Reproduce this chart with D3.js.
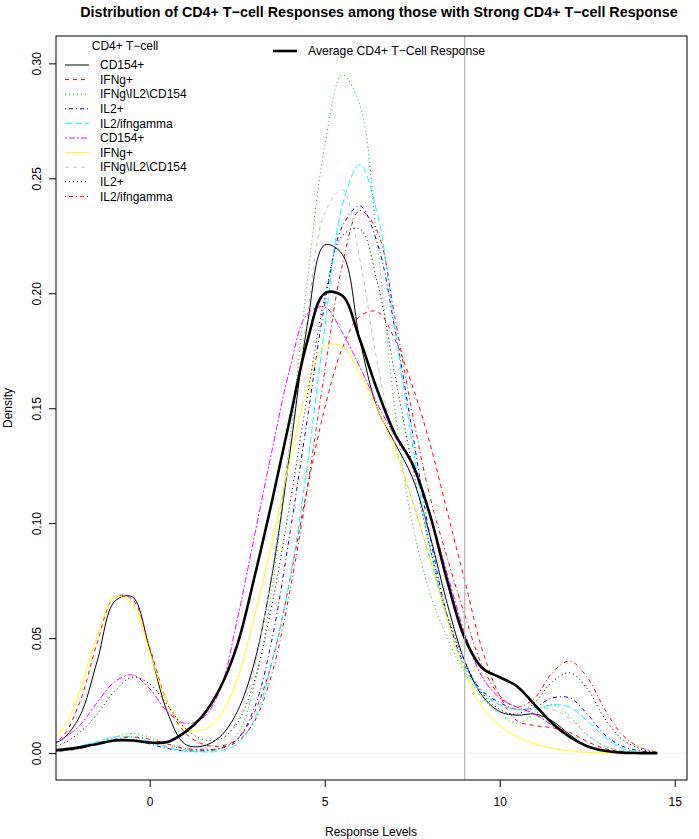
<!DOCTYPE html>
<html>
<head>
<meta charset="utf-8">
<script src="https://cdn.jsdelivr.net/npm/d3@7"></script>
<style>
  body { margin: 0; background: #fff; }
  text { font-family: "Liberation Sans", Arial, sans-serif; }
</style>
</head>
<body>
<div id="chart"></div>
<script>
const xGrid = [-3, -2.5, -2, -1.5, -1, -0.5, 0, 0.5, 1, 1.5, 2, 2.5, 3, 3.5, 4, 4.5, 5, 5.5, 6, 6.5,
  7, 7.5, 8, 8.5, 9, 9.5, 10, 10.5, 11, 11.5, 12, 12.5, 13, 13.5, 14, 14.5];

const cd154A = [0.003, 0.006, 0.016, 0.04, 0.066, 0.068, 0.045, 0.018, 0.004, 0.003, 0.007, 0.018, 0.04, 0.078, 0.13, 0.186, 0.221, 0.217, 0.18, 0.15,
  0.135, 0.12, 0.095, 0.065, 0.04, 0.025, 0.018, 0.0165, 0.017, 0.014, 0.008, 0.003, 0.001, 0, 0, 0];
const ifngA = [0.003, 0.007, 0.022, 0.048, 0.068, 0.067, 0.046, 0.022, 0.009, 0.004, 0.003, 0.006, 0.018, 0.04, 0.075, 0.115, 0.15, 0.176, 0.19, 0.192,
  0.18, 0.16, 0.135, 0.105, 0.075, 0.045, 0.025, 0.014, 0.012, 0.011, 0.009, 0.005, 0.002, 0.0005, 0, 0];
const tripleA = [0.0005, 0.001, 0.002, 0.004, 0.007, 0.0085, 0.007, 0.004, 0.0015, 0.0008, 0.002, 0.008, 0.03, 0.072, 0.135, 0.205, 0.264, 0.295, 0.282, 0.222,
  0.15, 0.1, 0.07, 0.05, 0.035, 0.024, 0.017, 0.013, 0.017, 0.021, 0.016, 0.008, 0.003, 0.001, 0, 0];
const il2A = [0.0005, 0.001, 0.002, 0.004, 0.0055, 0.0055, 0.004, 0.002, 0.001, 0.001, 0.002, 0.006, 0.02, 0.05, 0.095, 0.145, 0.195, 0.229, 0.238, 0.222,
  0.185, 0.14, 0.095, 0.06, 0.038, 0.027, 0.022, 0.019, 0.02, 0.024, 0.024, 0.017, 0.008, 0.003, 0.001, 0];
const il2ifnA = [0.0005, 0.001, 0.003, 0.005, 0.007, 0.007, 0.005, 0.0025, 0.001, 0.0005, 0.001, 0.004, 0.015, 0.04, 0.075, 0.125, 0.185, 0.238, 0.256, 0.235,
  0.185, 0.135, 0.09, 0.058, 0.037, 0.026, 0.021, 0.019, 0.019, 0.021, 0.02, 0.014, 0.007, 0.002, 0.0005, 0];
const cd154B = [0.003, 0.006, 0.012, 0.022, 0.031, 0.034, 0.028, 0.018, 0.013, 0.015, 0.027, 0.058, 0.095, 0.132, 0.167, 0.191, 0.194, 0.183, 0.168, 0.152,
  0.138, 0.125, 0.104, 0.078, 0.052, 0.033, 0.024, 0.02, 0.017, 0.012, 0.007, 0.003, 0.001, 0, 0, 0];
const ifngB = [0.004, 0.01, 0.027, 0.051, 0.068, 0.065, 0.044, 0.022, 0.011, 0.01, 0.016, 0.032, 0.06, 0.092, 0.127, 0.158, 0.177, 0.177, 0.165, 0.15,
  0.132, 0.11, 0.085, 0.058, 0.035, 0.02, 0.012, 0.007, 0.004, 0.002, 0.001, 0.0003, 0, 0, 0, 0];
const tripleB = [0.0005, 0.001, 0.002, 0.004, 0.006, 0.006, 0.005, 0.003, 0.002, 0.002, 0.005, 0.014, 0.038, 0.08, 0.135, 0.19, 0.235, 0.245, 0.215, 0.17,
  0.135, 0.11, 0.085, 0.06, 0.04, 0.027, 0.021, 0.019, 0.019, 0.019, 0.015, 0.008, 0.003, 0.001, 0, 0];
const il2B = [0.002, 0.004, 0.009, 0.017, 0.027, 0.033, 0.03, 0.021, 0.011, 0.006, 0.006, 0.013, 0.032, 0.065, 0.108, 0.155, 0.198, 0.225, 0.228, 0.205,
  0.165, 0.125, 0.09, 0.06, 0.04, 0.026, 0.019, 0.017, 0.022, 0.031, 0.035, 0.028, 0.015, 0.006, 0.002, 0];
const il2ifnB = [0.0005, 0.001, 0.002, 0.004, 0.006, 0.007, 0.006, 0.004, 0.002, 0.0015, 0.002, 0.005, 0.014, 0.035, 0.07, 0.115, 0.166, 0.212, 0.236, 0.227,
  0.19, 0.148, 0.112, 0.085, 0.06, 0.038, 0.025, 0.02, 0.024, 0.035, 0.04, 0.033, 0.019, 0.008, 0.0025, 0.0005];
const average = [0.001, 0.0015, 0.0025, 0.004, 0.0055, 0.0055, 0.0046, 0.0048, 0.009, 0.016, 0.028, 0.047, 0.077, 0.11, 0.145, 0.179, 0.2, 0.199, 0.18, 0.158,
  0.139, 0.126, 0.104, 0.075, 0.05, 0.037, 0.033, 0.029, 0.021, 0.013, 0.007, 0.003, 0.001, 0.0002, 0, 0];

const seriesNames = ['CD154+', 'IFNg+', 'IFNg\\IL2\\CD154', 'IL2+', 'IL2/ifngamma',
  'CD154+', 'IFNg+', 'IFNg\\IL2\\CD154', 'IL2+', 'IL2/ifngamma'];
const seriesValues = [cd154A, ifngA, tripleA, il2A, il2ifnA, cd154B, ifngB, tripleB, il2B, il2ifnB];
const xTicks = [0, 5, 10, 15];
const yTicks = [0, 0.05, 0.10, 0.15, 0.20, 0.25, 0.30];
const cutoff = 9;

// R base palette and lty 1..6
const colors = ['#000000', '#FF0000', '#00CD00', '#0000FF', '#00FFFF', '#FF00FF', '#FFFF00', '#BEBEBE', '#000000', '#FF0000'];
const dashes = [null, '4,4', '1,3', '1,3,4,3', '7,3', '2,2,6,2', null, '4,4', '1,3', '1,3,4,3'];

const width = 699, height = 839;
const box = {left: 56, right: 687, top: 36, bottom: 780};
const fontSize = 12;

const x = d3.scaleLinear().domain([-2.677, 15.35]).range([box.left, box.right]);
const y = d3.scaleLinear().domain([-0.0117, 0.3119]).range([box.bottom, box.top]);

const svg = d3.select('#chart').append('svg')
    .attr('width', width)
    .attr('height', height);

svg.append('defs').append('clipPath').attr('id', 'plotClip')
  .append('rect')
    .attr('x', box.left).attr('y', box.top)
    .attr('width', box.right - box.left).attr('height', box.bottom - box.top);

const line = d3.line()
    .x((d, i) => x(xGrid[i]))
    .y(d => y(d))
    .curve(d3.curveCatmullRom.alpha(0.5));

const plot = svg.append('g').attr('clip-path', 'url(#plotClip)');

// zero line drawn by plot.density
plot.append('line')
    .attr('x1', box.left).attr('x2', box.right)
    .attr('y1', y(0)).attr('y2', y(0))
    .attr('stroke', '#bebebe').attr('stroke-width', 0.3);

seriesValues.forEach((vals, i) => {
  plot.append('path')
      .attr('d', line(vals))
      .attr('fill', 'none')
      .attr('stroke', colors[i])
      .attr('stroke-width', 1)
      .attr('stroke-dasharray', dashes[i]);
});

plot.append('path')
    .attr('d', line(average))
    .attr('fill', 'none')
    .attr('stroke', '#000')
    .attr('stroke-width', 2.6);

plot.append('line')
    .attr('x1', x(cutoff)).attr('x2', x(cutoff))
    .attr('y1', box.top).attr('y2', box.bottom)
    .attr('stroke', '#b4b4b4').attr('stroke-width', 1.2);

// box
svg.append('rect')
    .attr('x', box.left).attr('y', box.top)
    .attr('width', box.right - box.left).attr('height', box.bottom - box.top)
    .attr('fill', 'none').attr('stroke', '#000').attr('stroke-width', 1);

// axes
const xAxis = svg.append('g')
    .attr('transform', `translate(0,${box.bottom})`)
    .call(d3.axisBottom(x).tickValues(xTicks).tickSize(7).tickPadding(10).tickFormat(d3.format('d')));
xAxis.select('.domain').remove();

const yAxis = svg.append('g')
    .attr('transform', `translate(${box.left},0)`)
    .call(d3.axisLeft(y).tickValues(yTicks).tickSize(7).tickFormat(d3.format('.2f')));
yAxis.select('.domain').remove();
yAxis.selectAll('text')
    .attr('transform', 'translate(-19,0) rotate(-90)')
    .attr('x', 0).attr('y', 0).attr('dy', '0.35em')
    .attr('text-anchor', 'middle');

svg.selectAll('.tick text').attr('font-size', fontSize).attr('fill', '#000')
    .style('font-family', '"Liberation Sans", Arial, sans-serif');
svg.selectAll('.tick line').attr('stroke', '#000');

svg.append('text')
    .attr('x', 379).attr('y', 17)
    .attr('text-anchor', 'middle')
    .attr('font-weight', 'bold')
    .attr('font-size', 14.3)
    .text('Distribution of CD4+ T\u2212cell Responses among those with Strong CD4+ T\u2212cell Response');

svg.append('text')
    .attr('x', 371).attr('y', 836)
    .attr('text-anchor', 'middle')
    .attr('font-size', fontSize)
    .text('Response Levels');

svg.append('text')
    .attr('transform', `translate(12,${(box.top + box.bottom) / 2}) rotate(-90)`)
    .attr('text-anchor', 'middle')
    .attr('font-size', fontSize)
    .text('Density');

// legend for the markers
const legend = svg.append('g').attr('font-size', fontSize);
legend.append('text')
    .attr('x', 125).attr('y', 50)
    .attr('text-anchor', 'middle')
    .text('CD4+ T\u2212cell');

const rows = legend.selectAll('.row')
    .data(seriesNames)
    .enter().append('g')
    .attr('transform', (d, i) => `translate(0,${65 + i * 14.6})`);

rows.append('line')
    .attr('x1', 65).attr('x2', 89)
    .attr('stroke', (d, i) => colors[i])
    .attr('stroke-width', 1)
    .attr('stroke-dasharray', (d, i) => dashes[i]);

rows.append('text')
    .attr('x', 100).attr('dy', '0.35em')
    .text(d => d);

// legend for the average
const avgLegend = svg.append('g').attr('font-size', 12.2)
    .attr('transform', 'translate(0,51)');
avgLegend.append('line')
    .attr('x1', 273).attr('x2', 297)
    .attr('stroke', '#000').attr('stroke-width', 2.6);
avgLegend.append('text')
    .attr('x', 308).attr('dy', '0.35em')
    .text('Average CD4+ T\u2212Cell Response');
</script>
</body>
</html>
